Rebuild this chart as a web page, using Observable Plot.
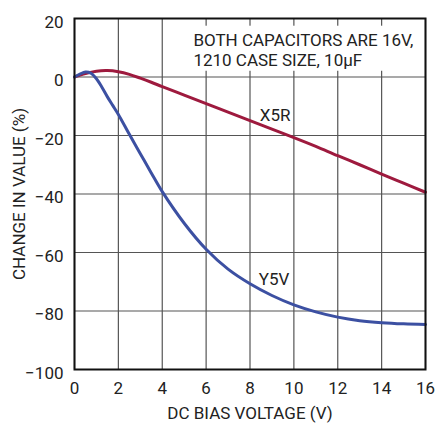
<!DOCTYPE html>
<html>
<head>
<meta charset="utf-8">
<script src="https://cdn.jsdelivr.net/npm/d3@7"></script>
<script src="https://cdn.jsdelivr.net/npm/@observablehq/plot@0.6"></script>
<style>
  html, body { margin: 0; padding: 0; background: #fff; }
</style>
</head>
<body>
<div id="chart"></div>
<script>
// ---- data ----
const xTicks = [0, 2, 4, 6, 8, 10, 12, 14, 16];
const yTicks = [-100, -80, -60, -40, -20, 0, 20];

const x5rVolts = [0, 0.5, 1, 1.5, 2, 2.5, 3, 3.5, 4, 5, 6, 7, 8, 9, 10, 11, 12, 13, 14, 15, 16];
const x5rPct   = [0, 1.2, 2.0, 2.2, 1.8, 0.9, -0.4, -1.8, -3.3, -6.2, -9.1, -12.0, -14.9, -17.8, -20.7, -23.7, -26.9, -30.0, -33.2, -36.3, -39.4];

const y5vVolts = [0, 0.25, 0.5, 0.75, 1, 1.25, 1.5, 1.75, 2, 2.5, 3, 3.5, 4, 5, 6, 7, 8, 9, 10, 11, 12, 13, 14, 15, 16];
const y5vPct   = [0, 1.0, 1.7, 1.3, -0.6, -3.5, -6.8, -9.8, -12.8, -19.6, -26.2, -32.8, -39.2, -50.0, -58.9, -65.7, -70.7, -74.7, -77.9, -80.3, -82.1, -83.3, -84.0, -84.4, -84.6];

const seriesNames = ["X5R", "Y5V"];
const labelVolts = [8.45, 8.4];
const labelPct = [-13.3, -69.2];

const noteLines = ["BOTH CAPACITORS ARE 16V,", "1210 CASE SIZE, 10µF"];
const noteVolts = 5.42;
const notePct = 15.4;

// ---- build ----
const x5r = x5rVolts.map((v, i) => ({v, p: x5rPct[i]}));
const y5v = y5vVolts.map((v, i) => ({v, p: y5vPct[i]}));
const labels = seriesNames.map((n, i) => ({n, v: labelVolts[i], p: labelPct[i]}));
const note = [{t: noteLines.join("\n"), v: noteVolts, p: notePct}];

const gridStyle = {stroke: "#555", strokeOpacity: 1, strokeWidth: 1.2};
const FS = 17;

const chart = Plot.plot({
  width: 438,
  height: 423,
  marginTop: 18,
  marginLeft: 74,
  marginRight: 13,
  marginBottom: 54,
  style: {
    fontFamily: "'Liberation Sans Narrow', 'Arial Narrow', Roboto, sans-serif",
    fontSize: FS + "px",
    color: "#222",
    background: "#fff"
  },
  x: {domain: [0, 16]},
  y: {domain: [-100, 20]},
  marks: [
    Plot.gridX(xTicks, gridStyle),
    Plot.gridY(yTicks, gridStyle),
    Plot.text(note, {x: "v", y: "p", text: "t", textAnchor: "start", lineAnchor: "top", lineHeight: 1.18, fill: "#222", fontSize: FS, className: "note"}),
    Plot.line(x5r, {x: "v", y: "p", stroke: "#9e1a3e", strokeWidth: 3, curve: "catmull-rom"}),
    Plot.line(y5v, {x: "v", y: "p", stroke: "#3c50a2", strokeWidth: 3, curve: "catmull-rom"}),
    Plot.text(labels, {x: "v", y: "p", text: "n", textAnchor: "start", fill: "#222", fontSize: FS}),
    Plot.axisX(xTicks, {tickSize: 0, tickPadding: 12, label: "DC BIAS VOLTAGE (V)", labelAnchor: "center", labelOffset: 49, labelArrow: false, fontSize: FS}),
    Plot.axisY(yTicks, {tickSize: 0, tickPadding: 11, dy: 4, label: "CHANGE IN VALUE (%)", labelAnchor: "center", labelOffset: 62, labelArrow: false, fontSize: FS}),
    Plot.frame({stroke: "#111", strokeWidth: 2})
  ]
});

document.getElementById("chart").appendChild(chart);

// white backdrop behind the note text (covers grid, like the reference)
const svg = d3.select(chart);
const noteG = svg.select("g.note");
if (!noteG.empty()) {
  const bb = noteG.node().getBBox();
  svg.insert("rect", "g.note")
    .attr("x", bb.x - 6)
    .attr("y", bb.y - 4)
    .attr("width", bb.width + 12)
    .attr("height", bb.height + 5)
    .attr("fill", "#fff");
}
</script>
</body>
</html>
